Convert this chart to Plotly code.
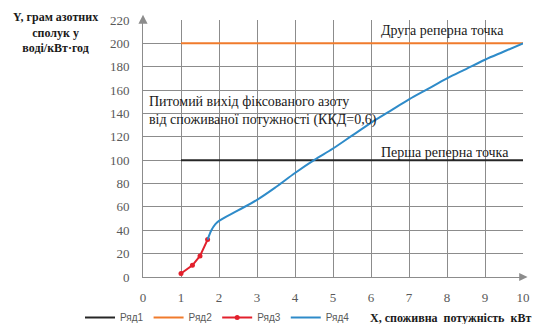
import plotly.graph_objects as go

# Data
ref_x = [1, 10]
ryad1_y = [100, 100]
ryad2_y = [200, 200]
ryad3_x = [1.0, 1.3, 1.5, 1.7]
ryad3_y = [3, 10, 18, 32]
ryad4_x = [1.7, 1.8, 1.9, 2.0, 2.5, 3.0, 3.5, 4.0, 4.5, 5.0, 5.5, 6.0, 6.5, 7.0, 7.5, 8.0, 8.5, 9.0, 9.5, 10.0]
ryad4_y = [32, 40, 45, 48, 57, 66, 77, 89, 100, 110, 121, 132, 142, 152, 161, 170, 178, 186, 193, 200]
x_ticks = list(range(0, 11))
y_ticks = list(range(0, 221, 20))

serif = "Liberation Serif, Times New Roman, serif"
tick_col = "#595959"

L, T, W, H = 143, 20, 380, 257


def px(xp):
    return (xp - L) / W


def py(yp):
    return (T + H - yp) / H


fig = go.Figure()
fig.add_trace(go.Scatter(x=ref_x, y=ryad1_y, mode="lines", name="Ряд1",
                         line=dict(color="#262626", width=2)))
fig.add_trace(go.Scatter(x=ref_x, y=ryad2_y, mode="lines", name="Ряд2",
                         line=dict(color="#F07B2C", width=2)))
fig.add_trace(go.Scatter(x=ryad3_x, y=ryad3_y, mode="lines+markers", name="Ряд3",
                         line=dict(color="#E2202C", width=2),
                         marker=dict(color="#E2202C", size=5)))
fig.add_trace(go.Scatter(x=ryad4_x, y=ryad4_y, mode="lines", name="Ряд4",
                         line=dict(color="#2E8BC9", width=2, shape="spline")))

fig.update_xaxes(range=[0, 10], tickvals=x_ticks, showgrid=True, gridcolor="#8c8c8c",
                 gridwidth=1, zeroline=False, showline=True, linecolor="#8c8c8c",
                 ticks="", ticklabelstandoff=8, automargin=False,
                 tickfont=dict(family=serif, size=13, color=tick_col))
fig.update_yaxes(range=[0, 220], tickvals=y_ticks, showgrid=True, gridcolor="#8c8c8c",
                 gridwidth=1, zeroline=False, showline=True, linecolor="#8c8c8c",
                 ticks="", ticklabelstandoff=10, automargin=False,
                 tickfont=dict(family=serif, size=13, color=tick_col))

ann_font = dict(family=serif, size=14, color="#1a1a1a")
annotations = [
    dict(x=6.2, y=211, xref="x", yref="y", text="Друга реперна точка", showarrow=False,
         xanchor="left", yanchor="middle", font=ann_font),
    dict(x=6.2, y=107, xref="x", yref="y", text="Перша реперна точка", showarrow=False,
         xanchor="left", yanchor="middle", font=ann_font),
    dict(x=0.1, y=142, xref="x", yref="y",
         text="Питомий вихід фіксованого азоту<br>від споживаної потужності (ККД=0,6)",
         showarrow=False, xanchor="left", yanchor="middle", align="left", font=ann_font),
    dict(x=px(55), y=py(8), xref="paper", yref="paper",
         text="<b>Y, грам азотних<br>сполук у<br>воді/кВт·год</b>",
         showarrow=False, xanchor="center", yanchor="top", align="center",
         font=dict(family=serif, size=12, color="#1a1a1a")),
    dict(x=px(368), y=py(318), xref="paper", yref="paper",
         text="<b>X, споживна  потужність  кВт</b>",
         showarrow=False, xanchor="left", yanchor="middle",
         font=dict(family=serif, size=12, color="#1a1a1a")),
]

shapes = [
    dict(type="path", xref="paper", yref="paper",
         path="M -0.012 0.985 L 0.012 0.985 L 0 1.02 Z", fillcolor="#8c8c8c", line=dict(width=0)),
    dict(type="path", xref="paper", yref="paper",
         path="M 0.99 -0.016 L 0.99 0.016 L 1.012 0 Z", fillcolor="#8c8c8c", line=dict(width=0)),
]

fig.update_layout(
    width=535, height=324,
    margin=dict(l=L, r=535 - L - W, t=T, b=324 - T - H, autoexpand=False),
    plot_bgcolor="white", paper_bgcolor="white",
    showlegend=True,
    legend=dict(orientation="h", xref="container", yref="container",
                x=80 / 535, y=1 - 303 / 324, xanchor="left", yanchor="top",
                font=dict(family="Liberation Sans, Arial, sans-serif", size=10, color=tick_col),
                bgcolor="rgba(0,0,0,0)"),
    annotations=annotations,
    shapes=shapes,
)

fig.write_html("out.html", config={"displayModeBar": False},
               post_script="document.body.style.margin='0';document.body.style.overflow='hidden';")
